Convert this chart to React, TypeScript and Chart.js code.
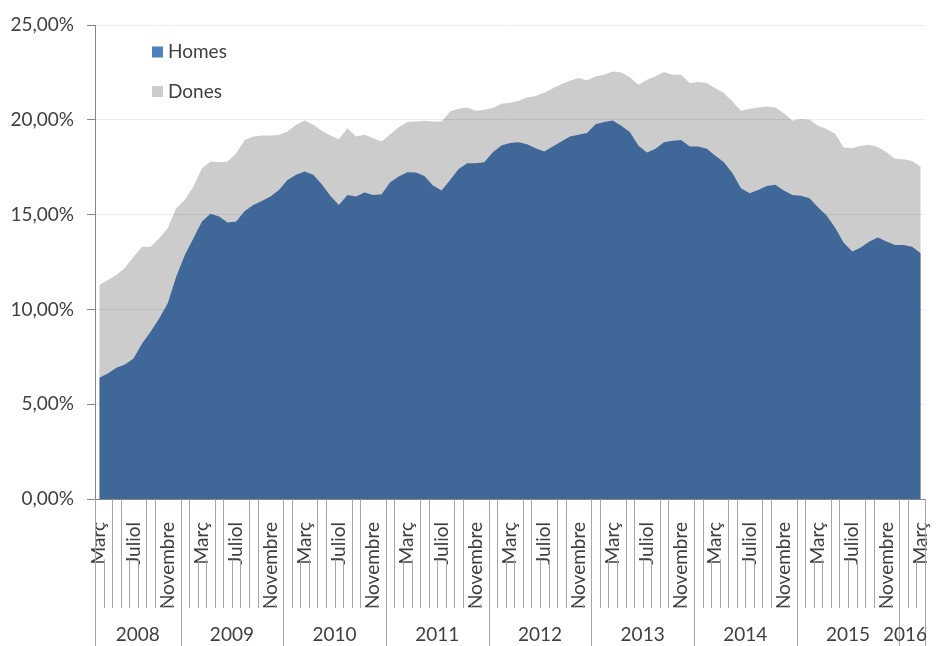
import React, { useEffect, useRef } from 'react';
import { Chart, registerables } from 'chart.js';

Chart.register(...registerables);

const YEARS = ['2008', '2009', '2010', '2011', '2012', '2013', '2014', '2015', '2016'];
const MONTH_NAMES = ['Gener', 'Febrer', 'Març', 'Abril', 'Maig', 'Juny', 'Juliol', 'Agost', 'Setembre', 'Octubre', 'Novembre', 'Desembre'];
const FIRST_MONTH = 2; // Març 2008
const LAST_MONTH = 2; // Març 2016
const LABEL_EVERY = 4;

const HOMES = [
  6.39, 6.62, 6.92, 7.10, 7.41, 8.20, 8.82, 9.52, 10.32, 11.73,
  12.87, 13.75, 14.63, 15.04, 14.90, 14.58, 14.63, 15.19, 15.51, 15.72,
  15.95, 16.30, 16.83, 17.10, 17.27, 17.10, 16.60, 16.00, 15.51, 16.04,
  15.95, 16.16, 16.04, 16.07, 16.71, 17.01, 17.24, 17.22, 17.04, 16.53,
  16.27, 16.83, 17.41, 17.71, 17.71, 17.76, 18.29, 18.64, 18.77, 18.82,
  18.71, 18.50, 18.33, 18.59, 18.86, 19.12, 19.21, 19.31, 19.77, 19.88,
  19.96, 19.68, 19.35, 18.64, 18.27, 18.47, 18.82, 18.89, 18.94, 18.59,
  18.59, 18.47, 18.10, 17.76, 17.18, 16.39, 16.13, 16.30, 16.51, 16.57,
  16.27, 16.04, 16.00, 15.86, 15.39, 14.95, 14.31, 13.52, 13.05, 13.26,
  13.58, 13.79, 13.58, 13.40, 13.40, 13.31, 12.96,
];

const DONES = [
  11.29, 11.55, 11.81, 12.20, 12.78, 13.31, 13.31, 13.75, 14.28, 15.33,
  15.77, 16.48, 17.45, 17.80, 17.76, 17.80, 18.24, 18.94, 19.12, 19.17,
  19.17, 19.20, 19.38, 19.74, 19.96, 19.74, 19.42, 19.17, 18.98, 19.56,
  19.12, 19.21, 19.03, 18.86, 19.24, 19.61, 19.88, 19.91, 19.95, 19.91,
  19.91, 20.44, 20.58, 20.65, 20.48, 20.53, 20.62, 20.85, 20.90, 21.00,
  21.18, 21.25, 21.43, 21.67, 21.88, 22.06, 22.20, 22.08, 22.29, 22.38,
  22.55, 22.50, 22.24, 21.85, 22.11, 22.29, 22.52, 22.38, 22.38, 21.94,
  21.99, 21.94, 21.66, 21.41, 20.97, 20.48, 20.58, 20.65, 20.70, 20.65,
  20.35, 19.96, 20.04, 20.00, 19.68, 19.52, 19.26, 18.54, 18.50, 18.63,
  18.68, 18.56, 18.29, 17.94, 17.92, 17.83, 17.53,
];

const SERIES_NAMES = ['Homes', 'Dones'];
const Y_MIN = 0;
const Y_MAX = 25;
const Y_STEP = 5;

// categories built from the year list and month names
const CAT_MONTHS: string[] = [];
const CAT_YEARS: string[] = [];
YEARS.forEach((y, yi) => {
  const from = yi === 0 ? FIRST_MONTH : 0;
  const to = yi === YEARS.length - 1 ? LAST_MONTH : 11;
  for (let m = from; m <= to; m++) {
    CAT_MONTHS.push(MONTH_NAMES[m]);
    CAT_YEARS.push(y);
  }
});

const FONT = 'Lato, "Open Sans", sans-serif';
const FONT_SIZE = 19;
const TEXT_COLOR = '#404040';
const AXIS_COLOR = '#868686';
const SEP_COLOR = '#a6a6a6';
const BLUE = '#3f6797';
const BLUE_LEGEND = '#4f81bd';
const GREY = 'rgba(0,0,0,0.2)';
const GREY_LEGEND = '#cccccc';
const LABEL_PAD = 15;
const MONTH_ROW_H = 109;
const X_AXIS_H = 147;

const insideLegend = {
  id: 'insideLegend',
  afterDraw(chart: any) {
    const { ctx, chartArea } = chart;
    const colors = [BLUE_LEGEND, GREY_LEGEND];
    ctx.save();
    ctx.font = `${FONT_SIZE}px ${FONT}`;
    ctx.textBaseline = 'middle';
    ctx.textAlign = 'left';
    chart.data.datasets.forEach((ds: any, k: number) => {
      const cy = chartArea.top + 27 + k * 39.5;
      ctx.fillStyle = colors[k];
      ctx.fillRect(chartArea.left + 57, cy - 5.5, 11, 11);
      ctx.fillStyle = TEXT_COLOR;
      ctx.fillText(ds.label, chartArea.left + 73, cy);
    });
    ctx.restore();
  },
};

const xAxisGroups = {
  id: 'xAxisGroups',
  afterDraw(chart: any) {
    const xs = chart.scales.x;
    const ctx = chart.ctx;
    const n = chart.data.labels.length;
    const half = (xs.getPixelForValue(1) - xs.getPixelForValue(0)) / 2;
    const boundary = (k: number) => (k < n ? xs.getPixelForValue(k) - half : xs.getPixelForValue(n - 1) + half);
    const axisY = xs.top;
    const monthBottom = axisY + MONTH_ROW_H;
    const yearBottom = chart.height;
    ctx.save();
    ctx.font = `${FONT_SIZE}px ${FONT}`;
    // where month labels sit, lines start below them
    const startY: number[] = new Array(n + 1).fill(axisY);
    for (let i = 0; i < n; i++) {
      if (i % LABEL_EVERY === 0) {
        const w = ctx.measureText(chart.data.labels[i]).width;
        const end = axisY + LABEL_PAD + w + 3;
        startY[i] = Math.max(startY[i], end);
        startY[i + 1] = Math.max(startY[i + 1], end);
      }
    }
    const isYearStart = (k: number) => k === 0 || k === n || CAT_YEARS[k] !== CAT_YEARS[k - 1];
    ctx.strokeStyle = SEP_COLOR;
    ctx.lineWidth = 1;
    for (let k = 0; k <= n; k++) {
      const x = Math.round(boundary(k)) + 0.5;
      const bottom = isYearStart(k) ? yearBottom : monthBottom;
      const top = isYearStart(k) ? axisY : startY[k];
      ctx.beginPath();
      ctx.moveTo(x, top);
      ctx.lineTo(x, bottom);
      ctx.stroke();
    }
    // year labels
    ctx.fillStyle = TEXT_COLOR;
    ctx.textAlign = 'center';
    ctx.textBaseline = 'middle';
    let s = 0;
    for (let k = 1; k <= n; k++) {
      if (isYearStart(k)) {
        const label = CAT_YEARS[s];
        const w = ctx.measureText(label).width;
        let cx = (boundary(s) + boundary(k)) / 2;
        if (cx + w / 2 > xs.right + 2) cx = xs.right + 2 - w / 2;
        ctx.fillText(label, cx, axisY + 136);
        s = k;
      }
    }
    ctx.restore();
  },
};

export default function App() {
  const ref = useRef<HTMLCanvasElement | null>(null);
  useEffect(() => {
    document.body.style.margin = '0';
    const canvas = ref.current;
    if (!canvas) return;
    const chart = new Chart(canvas, {
      type: 'line',
      data: {
        labels: CAT_MONTHS,
        datasets: [
          {
            label: SERIES_NAMES[0],
            data: HOMES,
            fill: 'origin',
            backgroundColor: BLUE,
            borderWidth: 0,
            pointRadius: 0,
            tension: 0,
          },
          {
            label: SERIES_NAMES[1],
            data: DONES,
            fill: 'origin',
            backgroundColor: GREY,
            borderWidth: 0,
            pointRadius: 0,
            tension: 0,
          },
        ],
      },
      options: {
        animation: false,
        responsive: false,
        devicePixelRatio: 1,
        layout: { padding: { top: 25, right: 11, left: 0, bottom: 0 } },
        plugins: { legend: { display: false }, tooltip: { enabled: false } },
        scales: {
          x: {
            type: 'category',
            offset: true,
            grid: { display: false },
            border: { display: true, color: AXIS_COLOR, width: 1 },
            ticks: {
              autoSkip: false,
              minRotation: 90,
              maxRotation: 90,
              padding: LABEL_PAD,
              color: TEXT_COLOR,
              font: { family: FONT, size: FONT_SIZE },
              callback: (_v: any, i: number) => (i % LABEL_EVERY === 0 ? CAT_MONTHS[i] : ''),
            },
            afterFit: (scale: any) => {
              scale.height = X_AXIS_H;
              scale.paddingLeft = 0;
              scale.paddingRight = 0;
            },
          },
          y: {
            min: Y_MIN,
            max: Y_MAX,
            grid: { color: '#ededed', tickColor: AXIS_COLOR, tickLength: 8, drawTicks: true },
            border: { display: true, color: AXIS_COLOR, width: 1 },
            ticks: {
              stepSize: Y_STEP,
              padding: 13,
              color: TEXT_COLOR,
              font: { family: FONT, size: FONT_SIZE },
              callback: (v: any) => Number(v).toFixed(2).replace('.', ',') + '%',
            },
            afterFit: (scale: any) => {
              scale.width = 95;
            },
          },
        },
      },
      plugins: [xAxisGroups, insideLegend],
    });
    return () => chart.destroy();
  }, []);
  return (
    <div style={{ position: 'fixed', left: 0, top: 0, width: 936, height: 646, background: '#fff' }}>
      <canvas ref={ref} width={936} height={646} style={{ display: 'block' }} />
    </div>
  );
}
